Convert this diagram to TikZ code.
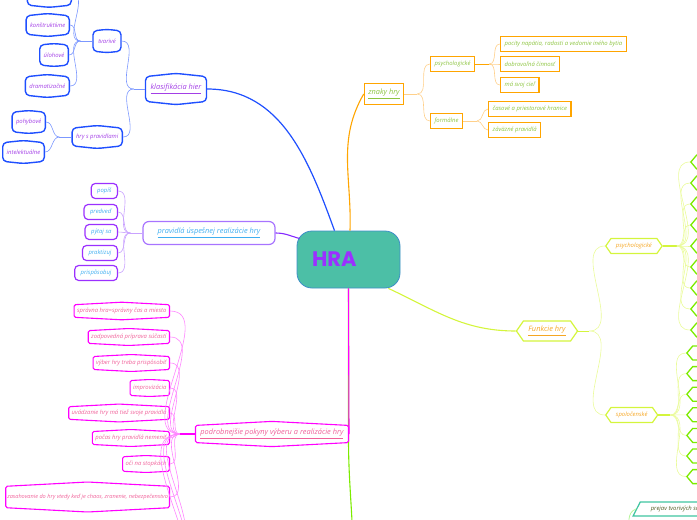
\documentclass[tikz,border=0pt]{standalone}
\usepackage{fontspec}
\setmainfont{Open Sans}
\newfontfamily\hrafont{Poppins}
\usetikzlibrary{positioning,shapes.symbols,shapes.geometric}
\definecolor{modra}{HTML}{1F4FFF}
\definecolor{modrasvetla}{HTML}{7C98FF}
\definecolor{fialova}{HTML}{9B30FF}
\definecolor{fialovasvetla}{HTML}{A874FF}
\definecolor{fialovaspoj}{HTML}{C9A2FF}
\definecolor{ruzova}{HTML}{FF00FF}
\definecolor{ruzovasvetla}{HTML}{FF85FF}
\definecolor{oranzova}{HTML}{FFA500}
\definecolor{oranzovasvetla}{HTML}{FFD08A}
\definecolor{limetka}{HTML}{D4F53C}
\definecolor{limetkasvetla}{HTML}{EAFB9A}
\definecolor{zelena}{HTML}{7CEB00}
\definecolor{zelenasvetla}{HTML}{B4F59A}
\definecolor{tyrkys}{HTML}{4CBFA6}
\definecolor{tyrkysokraj}{HTML}{3E8EC8}
\definecolor{morska}{HTML}{3FC4A0}
\definecolor{textfial}{HTML}{A33FE6}
\definecolor{textmodry}{HTML}{3FAEF0}
\definecolor{textruz}{HTML}{F0629A}
\definecolor{textzel}{HTML}{8CC43F}
\definecolor{textoranz}{HTML}{F5A623}
\definecolor{textoliva}{HTML}{4F5B22}

\begin{document}
\begin{tikzpicture}[x=1pt,y=-1pt,
  every node/.style={font=\fontsize{5.9}{7}\selectfont\itshape},
  hlavny/.style={font=\fontsize{7.4}{8.5}\selectfont\itshape},
  stred/.style={draw=tyrkysokraj,fill=tyrkys,rounded corners=15pt,line width=0.8pt,minimum width=103pt,minimum height=57pt,text width=73pt,inner xsep=15pt,align=left,text=fialova,font=\hrafont\bfseries\fontsize{21}{24}\selectfont},
  modry/.style={signal,signal to=north and south,signal pointer angle=168,draw=modra,line width=1.4pt,rounded corners=4pt,text=textfial,minimum height=23pt,inner xsep=4pt},
  fial/.style={draw=fialova,line width=1.2pt,rounded corners=4pt,text=textmodry,minimum height=15pt,inner xsep=6pt},
  ruz/.style={signal,signal to=north and south,signal pointer angle=174,draw=ruzova,line width=1.1pt,rounded corners=1.5pt,text=textruz,minimum height=17pt,inner xsep=3pt},
  oranz/.style={draw=oranzova,line width=1.3pt,text=textzel,minimum height=15pt,inner xsep=4pt},
  limet/.style={signal,signal to=west and east,signal pointer angle=110,draw=limetka,line width=1.2pt,text=textoranz,minimum height=15pt,inner xsep=5pt},
  list/.style={signal,signal to=west and east,signal pointer angle=100,draw=zelena,line width=1.3pt,minimum width=40pt,minimum height=14pt},
  spoj/.style={line width=0.6pt}
]
  \useasboundingbox (0,0) rectangle (697,520);
  % stred
  \node[stred] (hra) at (348.5,259.5) {HRA};

  % klasifikacia
  \node[modry,hlavny,minimum width=61pt,minimum height=31pt] (klas) at (176,89) {\underline{klasifikácia hier}};
  \node[modry,minimum width=28pt] (tvar) at (107,41) {tvarivé};
  \node[modry,anchor=east] (hrys) at (123,137) {hry s pravidlami};
  \node[modry,anchor=east,minimum width=44pt] (skryty) at (72,-6) {};
  \node[modry,anchor=east] (konst) at (70,25) {konštruktívne};
  \node[modry,anchor=east] (uloh) at (69,55) {úlohové};
  \node[modry,anchor=east] (dram) at (70,86) {dramatizačné};
  \node[modry,anchor=east] (pohyb) at (46,122) {pohybové};
  \node[modry,anchor=east] (intel) at (45,152) {intelektuálne};
  \draw[modra,line width=1.2pt] ([xshift=-14pt]hra.north) to[out=110,in=0] (klas.east);
  \coordinate (klasB) at ([xshift=-11pt]klas.west);
  \draw[modrasvetla,line width=0.9pt] (klas.west) -- (klasB);
  \foreach \d in {tvar,hrys} \draw[modrasvetla,spoj] (klasB) to[out=180,in=0] (\d.east);
  \coordinate (tvarB) at ([xshift=-12pt]tvar.west);
  \draw[modrasvetla,line width=0.9pt] (tvar.west) -- (tvarB);
  \foreach \d in {skryty,konst,uloh,dram} \draw[modrasvetla,spoj] (tvarB) to[out=180,in=0] (\d.east);
  \coordinate (hrysB) at ([xshift=-12pt]hrys.west);
  \draw[modrasvetla,line width=0.9pt] (hrys.west) -- (hrysB);
  \foreach \d in {pohyb,intel} \draw[modrasvetla,spoj] (hrysB) to[out=180,in=0] (\d.east);

  % pravidla
  \node[fial,hlavny,draw=fialovasvetla,minimum width=132pt,minimum height=23pt,rounded corners=6pt] (prav) at (209,233) {\underline{pravidlá úspešnej realizácie hry}};
  \node[fial,anchor=east] (popis) at (118,191) {popíš};
  \node[fial,anchor=east] (predved) at (118,212) {predveď};
  \node[fial,anchor=east] (pytaj) at (118,232) {pýtaj sa};
  \node[fial,anchor=east] (prakt) at (118,253) {praktizuj};
  \node[fial,anchor=east] (prisp) at (118,273) {prispôsobuj};
  \draw[fialova!85!blue,line width=1.1pt] (prav.east) to[out=0,in=165] ([shift={(3pt,21pt)}]hra.west);
  \coordinate (pravB) at ([xshift=-12pt]prav.west);
  \draw[fialovaspoj,line width=0.9pt] (prav.west) -- (pravB);
  \foreach \d in {popis,predved,pytaj,prakt,prisp} \draw[fialovaspoj,spoj] (pravB) to[out=180,in=0] (\d.east);

  % pokyny
  \draw[zelena,line width=1.1pt] (hra.south) -- ([yshift=-150pt]hra.south) to[out=270,in=90] (353,560);
  \node[ruz,hlavny,anchor=east,minimum height=25pt,minimum width=153pt,fill=white] (pod) at (349,434) {\underline{podrobnejšie pokyny výberu a realizácie hry}};
  \draw[ruzova,line width=1.1pt] (hra.south) -- (pod.east);
  \node[ruz,anchor=east] (spravna) at (170,311) {správna hra=správny čas a miesto};
  \node[ruz,anchor=east] (zodp) at (170,337) {zodpovedná príprava súčastí};
  \node[ruz,anchor=east] (vyber) at (170,363) {výber hry treba prispôsobiť};
  \node[ruz,anchor=east] (impro) at (170,388) {improvizácia};
  \node[ruz,anchor=east] (uvad) at (170,413) {uvádzanie hry má tiež svoje pravidlá};
  \node[ruz,anchor=east] (pocas) at (170,438) {počas hry pravidlá nemeniť};
  \node[ruz,anchor=east] (oci) at (170,464) {oči na stopkách};
  \node[ruz,anchor=east,minimum height=30pt,inner xsep=1.5pt,font=\fontsize{5.6}{7}\selectfont\itshape] (zasah) at (170,497) {zasahovanie do hry vtedy keď je chaos, zranenie, nebezpečenstvo};
  \coordinate (podB) at ([xshift=-15pt]pod.west);
  \coordinate (dalsi1) at (172,545);
  \coordinate (dalsi2) at (172,570);
  \coordinate (dalsi3) at (172,595);
  \draw[ruzova,line width=1.1pt] (pod.west) -- (podB);
  \foreach \d in {spravna,zodp,vyber,impro,uvad,pocas,oci,zasah,dalsi1,dalsi2,dalsi3} \draw[ruzovasvetla,spoj] (podB) to[out=180,in=0] (\d.east);

  % znaky
  \node[oranz,hlavny,minimum height=21pt] (znaky) at (384,94) {\underline{znaky hry}};
  \node[oranz,anchor=west] (psych) at (430,64) {psychologické};
  \node[oranz,anchor=west] (form) at (430,121) {formálne};
  \node[oranz,anchor=west] (pocity) at (500,44) {pocity napätia, radosti a vedomie iného bytia};
  \node[oranz,anchor=west] (dobr) at (500,64) {dobrovoľná činnosť};
  \node[oranz,anchor=west] (ciel) at (500,85) {má svoj cieľ};
  \node[oranz,anchor=west] (hranice) at (488,109) {časové a priestorové hranice};
  \node[oranz,anchor=west] (zavaz) at (488,130) {záväzné pravidlá};
  \draw[oranzova,line width=1.1pt] ([xshift=1.5pt]hra.north) to[out=88,in=240] (znaky.west);
  \coordinate (znakyB) at ([xshift=13pt]znaky.east);
  \draw[oranzovasvetla,line width=0.9pt] (znaky.east) -- (znakyB);
  \foreach \d in {psych,form} \draw[oranzovasvetla,spoj] (znakyB) to[out=0,in=180] (\d.west);
  \coordinate (psychB) at ([xshift=14pt]psych.east);
  \draw[oranzova,line width=0.9pt] (psych.east) -- (psychB);
  \foreach \d in {pocity,dobr,ciel} \draw[oranzovasvetla,spoj] (psychB) to[out=0,in=180] (\d.west);
  \coordinate (formB) at ([xshift=14pt]form.east);
  \draw[oranzovasvetla,line width=0.9pt] (form.east) -- (formB);
  \foreach \d in {hranice,zavaz} \draw[oranzovasvetla,spoj] (formB) to[out=0,in=180] (\d.west);

  % funkcie
  \node[limet,hlavny,minimum height=20pt] (fun) at (547,331) {\underline{Funkcie hry}};
  \node[limet,anchor=west] (fpsych) at (605,246) {psychologické};
  \node[limet,anchor=west] (fspol) at (605,415) {spoločenské};
  \draw[limetka,line width=1.1pt] ([xshift=-12pt]hra.south east) to[out=-25,in=180] (fun.west);
  \coordinate (funB) at ([xshift=11pt]fun.east);
  \draw[limetka,line width=0.9pt] (fun.east) -- (funB);
  \foreach \d in {fpsych,fspol} \draw[limetkasvetla,spoj] (funB) to[out=0,in=180] (\d.west);
  \coordinate (fpsychB) at ([xshift=14pt]fpsych.east);
  \draw[limetka,line width=1.1pt] (fpsych.east) -- (fpsychB);
  \foreach \i in {0,...,8}{
    \node[list,anchor=west] (pl\i) at (690,{162+21*\i}) {};
    \draw[limetkasvetla,spoj] (fpsychB) to[out=0,in=180] (pl\i.west);
  }
  \coordinate (fspolB) at ([xshift=12pt]fspol.east);
  \draw[limetka,line width=1.1pt] (fspol.east) -- (fspolB);
  \foreach \i in {0,...,6}{
    \node[list,anchor=west] (sl\i) at (686,{353+20.6*\i}) {};
    \draw[limetkasvetla,spoj] (fspolB) to[out=0,in=180] (sl\i.west);
  }

  % prejav
  \node[trapezium,trapezium left angle=63,trapezium right angle=117,draw=morska,line width=1.2pt,text=textoliva,anchor=west,minimum height=14pt,inner xsep=6pt] (prejav) at (636,509) {prejav tvorivých schopností};
  \coordinate (prejavB) at (628,535);
  \draw[zelenasvetla,line width=0.8pt] (prejavB) to[out=80,in=200] (prejav.west);
\end{tikzpicture}
\end{document}
